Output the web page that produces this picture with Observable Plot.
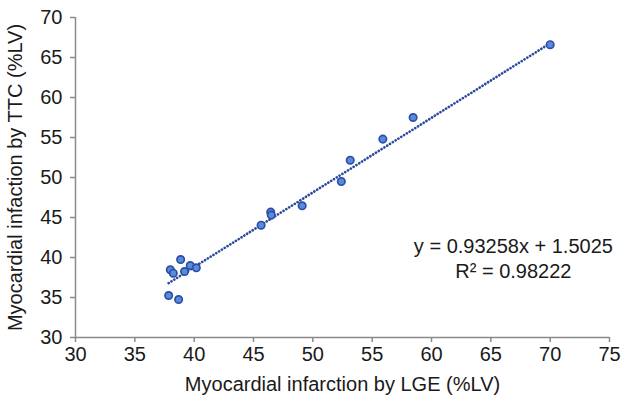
<!DOCTYPE html>
<html>
<head>
<meta charset="utf-8">
<script src="https://cdn.jsdelivr.net/npm/d3@7"></script>
<script src="https://cdn.jsdelivr.net/npm/@observablehq/plot@0.6"></script>
<style>
  html, body { margin: 0; padding: 0; background: #fff; }
  #chart svg { display: block; }
</style>
</head>
<body>
<div id="chart"></div>
<script>
// Data
const lgeValues = [37.85, 38.69, 37.99, 38.24, 38.86, 39.19, 39.67, 40.18, 45.64, 46.45, 46.5, 49.1, 52.4, 53.15, 55.9, 58.45, 70.0];
const ttcValues = [35.25, 34.75, 38.46, 38.04, 39.75, 38.25, 39.0, 38.71, 44.04, 45.67, 45.3, 46.46, 49.5, 52.16, 54.8, 57.5, 66.6];
const slope = 0.93258;
const intercept = 1.5025;
const rSquared = 0.98222;
const xTicks = [30, 35, 40, 45, 50, 55, 60, 65, 70, 75];
const yTicks = [30, 35, 40, 45, 50, 55, 60, 65, 70];
const xLabel = "Myocardial infarction by LGE (%LV)";
const yLabel = "Myocardial infaction by TTC (%LV)";

const points = lgeValues.map((x, i) => ({x, y: ttcValues[i]}));
const [xMin, xMax] = d3.extent(lgeValues);
const trend = [xMin, xMax].map(x => ({x, y: slope * x + intercept}));
const eqText = `y = ${slope}x + ${intercept}\nR² = ${rSquared}`;

const axisColor = "#8a8a8a";
const textColor = "#1a1a1a";

const chart = Plot.plot({
  width: 622,
  height: 401,
  marginLeft: 75,
  marginRight: 13,
  marginTop: 17,
  marginBottom: 64,
  style: {fontFamily: "'Liberation Sans', Arial, sans-serif", fontSize: "20px", color: textColor, background: "#fff"},
  x: {domain: [30, 75]},
  y: {domain: [30, 70]},
  marks: [
    Plot.ruleY([30], {stroke: axisColor, strokeWidth: 1.5}),
    Plot.ruleX([30], {stroke: axisColor, strokeWidth: 1.5}),
    Plot.axisX({ticks: xTicks, tickSize: 5, tickPadding: 4, stroke: axisColor, strokeWidth: 1.5, fill: textColor, fontSize: 20,
      label: xLabel, labelAnchor: "center", labelArrow: "none", labelOffset: 53}),
    Plot.axisY({ticks: yTicks, tickSize: 5, tickPadding: 8, stroke: axisColor, strokeWidth: 1.5, fill: textColor, fontSize: 20,
      label: yLabel, labelAnchor: "center", labelArrow: "none", labelOffset: 68}),
    Plot.line(trend, {x: "x", y: "y", stroke: "#2B4A9E", strokeWidth: 2.7, strokeDasharray: "0.01 3.3", strokeLinecap: "round"}),
    Plot.dot(points, {x: "x", y: "y", r: 3.7, fill: "#5A8BDA", stroke: "#2B4EA6", strokeWidth: 1.7}),
    Plot.text([eqText], {x: 66.9, y: 40, text: d => d, fontSize: 20, lineHeight: 1.25, fill: textColor, textAnchor: "middle"})
  ]
});
document.getElementById("chart").appendChild(chart);
</script>
</body>
</html>
